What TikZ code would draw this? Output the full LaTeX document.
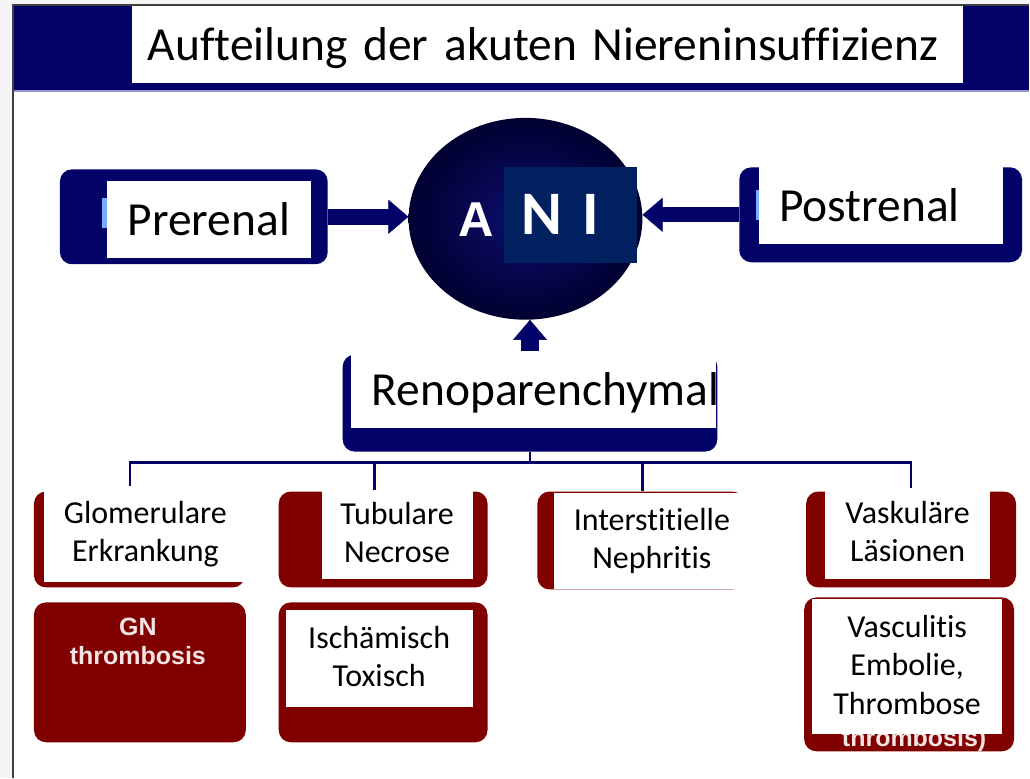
\documentclass[tikz,border=0pt]{standalone}
\usepackage{fontspec}
\setmainfont{Carlito}[Ligatures=NoCommon]
\newfontfamily\arialfont{Liberation Sans}
\usepackage{tikz}
\usetikzlibrary{arrows.meta,shapes.geometric}
\definecolor{slidenavy}{RGB}{2,2,104}
\definecolor{anidark}{RGB}{0,0,48}
\definecolor{anilight}{RGB}{14,14,112}
\definecolor{niblue}{RGB}{0,32,96}
\definecolor{boxred}{RGB}{128,0,0}
\definecolor{barline}{RGB}{150,150,210}
\definecolor{sliver}{RGB}{120,170,255}
\definecolor{fragwhite}{RGB}{244,228,228}
\newcommand{\bigtext}{\fontsize{47.5}{57}\selectfont}
\newcommand{\smalltext}{\fontsize{32}{38.5}\selectfont}
\newcommand{\topstrut}{\rule{0pt}{34pt}}
\newcommand{\botstrut}{\rule[-4.5pt]{0pt}{4.5pt}}

\begin{document}
\begin{tikzpicture}[x=1pt,y=-1pt,
  navybox/.style={fill=slidenavy, rounded corners=12pt, inner sep=0pt},
  redbox/.style={fill=boxred, rounded corners=12pt, inner sep=0pt},
  biglabel/.style={fill=white, inner ysep=0pt, font=\bigtext, text height=32pt, text depth=0pt},
  smalllbl/.style={fill=white, inner sep=0pt, align=center, font=\smalltext,
    execute at begin node=\topstrut, execute at end node=\botstrut},
  fragment/.style={inner sep=0pt, align=center, text=fragwhite,
    font=\arialfont\bfseries\fontsize{25}{29}\selectfont},
  shaft/.style={fill=slidenavy},
  arrowhead/.style={draw=slidenavy, line width=0.4pt, -{Triangle[width=34pt,length=20pt]}},
  branch/.style={draw=slidenavy, line width=2.6pt}]
  % slide frame and title bar
  \fill[gray!8] (0,0) rectangle (1030,779);
  \fill[white] (13,5) rectangle (1030,779);
  \fill[slidenavy] (14,6) rectangle (1030,90);
  \draw[barline,line width=2pt] (14,91) -- (1030,91);
  \draw[gray!50!black,line width=1.2pt] (13,779) -- (13,5) -- (1030,5);
  \node[biglabel, minimum height=77pt, inner xsep=16pt, text width=800pt, align=left]
    (title) at (548,44.5) {Aufteilung der akuten Niereninsuffizienz};

  % upper row
  \node[navybox, minimum width=268pt, minimum height=95pt] (pre) at (194,217) {};
  \node[navybox, minimum width=283pt, minimum height=95pt] (post) at (881.5,215) {};
  \node[navybox, minimum width=375pt, minimum height=97pt] (reno) at (530.5,403.5) {};
  \node[ellipse, minimum width=234pt, minimum height=202pt, inner sep=0pt,
    inner color=anilight, outer color=anidark] (ani) at (526,219) {};
  \coordinate (pretip) at (pre.east -| ani.west);
  \coordinate (posttip) at (post.west -| ani.east);
  \coordinate (renotip) at (reno.north |- ani.south);
  \fill[shaft] ([yshift=8pt]pre.east) rectangle ([xshift=-19pt,yshift=-8pt]pretip);
  \fill[shaft] ([yshift=7.5pt]post.west) rectangle ([xshift=19pt,yshift=-7.5pt]posttip);
  \fill[shaft] ([xshift=-9pt]reno.north) rectangle ([xshift=9pt,yshift=-15pt]renotip);
  \draw[arrowhead] ([xshift=-20pt]pretip) -- (pretip);
  \draw[arrowhead] ([xshift=20pt]posttip) -- (posttip);
  \draw[arrowhead] ([yshift=-17pt]renotip) -- (renotip);

  % lower row
  \node[redbox, minimum width=211pt, minimum height=96pt] (glom) at (139.5,540) {};
  \node[redbox, minimum width=212pt, minimum height=140pt] (gn) at (140,673) {};
  \node[redbox, minimum width=209pt, minimum height=96pt] (tub) at (383.5,540) {};
  \node[redbox, minimum width=209pt, minimum height=140pt] (isch) at (383.5,673) {};
  \node[redbox, minimum width=207pt, minimum height=98pt] (inter) at (641.5,541) {};
  \node[redbox, minimum width=210pt, minimum height=96pt] (vask) at (912,540) {};
  \node[redbox, minimum width=210pt, minimum height=154pt] (vasc) at (910,675) {};
  \node[fragment, anchor=base] (gntxt) at (138,665) {GN\\thrombosis};
  \node[fragment, anchor=base] (vasctxt) at (915,747) {thrombosis)};

  \coordinate (bus) at ([yshift=-11pt]reno.south);
  \draw[branch] (reno.south) -- (bus);
  \foreach \n/\dx in {glom/-9.5pt,tub/-8.5pt,inter/1.5pt,vask/0pt}
    \draw[branch] (bus) -| ([xshift=\dx]\n.north);

  % white labels
  \fill[sliver] (102,198) rectangle (108,228);
  \fill[sliver] (757,190) rectangle (761,220);
  \node[biglabel, minimum width=204pt, minimum height=77pt] (prelbl) at (209,219.5) {Prerenal};
  \node[biglabel, minimum height=77pt, inner xsep=20pt, text width=204pt, align=left]
    (postlbl) at (882,205.5) {Postrenal};
  \node[biglabel, minimum height=77pt, inner xsep=21pt, text width=324pt, align=left]
    (renolbl) at (534,389.5) {\mbox{Renoparenchymal}};
  \node[text=white, inner sep=0pt, font=\arialfont\bfseries\fontsize{49}{49}\selectfont]
    (aleft) at (477,220) {A};
  \node[fill=niblue, minimum height=96pt, inner xsep=18pt, text width=98pt, align=left,
    text=white, font=\bfseries\fontsize{62}{62}\selectfont, text height=40pt, text depth=0pt]
    (ni) at (571,215) {N I};

  \node[smalllbl, minimum width=203pt, minimum height=97pt] (glomlbl) at (145.5,534.5) {Glomerulare\\Erkrankung};
  \node[smalllbl, minimum width=151pt, minimum height=90pt] (tublbl) at (397.5,535) {Tubulare\\Necrose};
  \node[smalllbl, minimum width=187pt, minimum height=97pt] (ischlbl) at (379.5,659.5) {Ischämisch\\Toxisch};
  \node[smalllbl, minimum width=195pt, minimum height=97pt] (interlbl) at (652.5,541.5) {Interstitielle\\Nephritis};
  \node[smalllbl, minimum width=165pt, minimum height=92pt] (vasklbl) at (908.5,534) {Vaskuläre\\Läsionen};
  \node[smalllbl, minimum width=190pt, minimum height=135pt] (vasclbl) at (908,667.5) {Vasculitis\\Embolie,\\Thrombose};
\end{tikzpicture}
\end{document}
